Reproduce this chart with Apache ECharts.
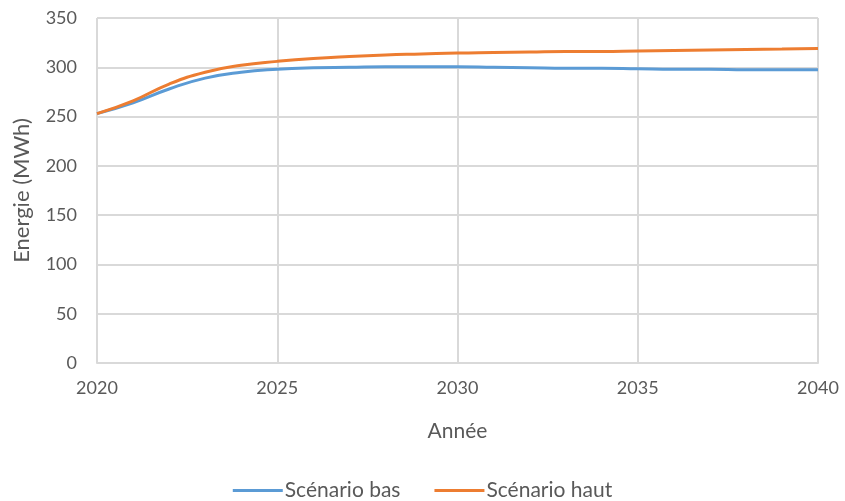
<!DOCTYPE html>
<html>
<head>
<meta charset="utf-8">
<script src="https://cdn.jsdelivr.net/npm/echarts@6/dist/echarts.min.js"></script>
<style>
  html, body { margin: 0; padding: 0; background: #fff; }
  #chart { width: 845px; height: 501px; }
</style>
</head>
<body>
<div id="chart"></div>
<script>
// Annual energy projection, 2020–2040
const years = [2020, 2021, 2022, 2023, 2024, 2025, 2026, 2027, 2028, 2029, 2030,
               2031, 2032, 2033, 2034, 2035, 2036, 2037, 2038, 2039, 2040];
const scenarioBas = [253, 264, 278, 289, 295, 298, 299.5, 300, 300.5, 300.5, 300.5,
                     300, 299.5, 299, 299, 298.5, 298, 298, 297.5, 297.5, 297.5];
const scenarioHaut = [253, 266, 283, 295, 302, 306, 309, 311, 312.5, 313.5, 314.5,
                      315, 315.5, 316, 316, 316.5, 317, 317.5, 318, 318.5, 319];
const seriesNames = ['Scénario bas', 'Scénario haut'];

const font = 'Lato, "Open Sans", sans-serif';
const gridColor = '#d9d9d9';
const textColor = '#595959';

const chart = echarts.init(document.getElementById('chart'));
chart.setOption({
  animation: false,
  textStyle: { fontFamily: font },
  grid: { left: 97, right: 27, top: 18, bottom: 138 },
  xAxis: {
    type: 'value', min: 2020, max: 2040, interval: 5,
    name: 'Année', nameLocation: 'middle', nameGap: 58,
    nameTextStyle: { color: textColor, fontSize: 21, fontFamily: font },
    axisLine: { show: true, lineStyle: { color: gridColor, width: 2 } },
    axisTick: { show: false },
    axisLabel: { color: textColor, fontSize: 18, margin: 16, fontFamily: font,
                 formatter: v => String(v) },
    splitLine: { show: true, lineStyle: { color: gridColor, width: 2 } }
  },
  yAxis: {
    type: 'value', min: 0, max: 350, interval: 50,
    name: 'Energie (MWh)', nameLocation: 'middle', nameGap: 64, nameRotate: 90,
    nameTextStyle: { color: textColor, fontSize: 22, fontFamily: font },
    axisLine: { show: false },
    axisTick: { show: false },
    axisLabel: { color: textColor, fontSize: 18, margin: 20, fontFamily: font },
    splitLine: { show: true, lineStyle: { color: gridColor, width: 2 } }
  },
  legend: {
    bottom: -5, left: 'center',
    icon: 'rect', itemWidth: 50, itemHeight: 3, itemGap: 34,
    textStyle: { color: textColor, fontSize: 21, fontFamily: font, padding: [0, 0, 0, -3] },
    data: seriesNames
  },
  series: [
    {
      name: seriesNames[0], type: 'line', smooth: true, showSymbol: false,
      data: years.map((y, i) => [y, scenarioBas[i]]),
      lineStyle: { color: '#5B9BD5', width: 3 }, itemStyle: { color: '#5B9BD5' }
    },
    {
      name: seriesNames[1], type: 'line', smooth: true, showSymbol: false,
      data: years.map((y, i) => [y, scenarioHaut[i]]),
      lineStyle: { color: '#ED7D31', width: 3 }, itemStyle: { color: '#ED7D31' }
    }
  ]
});
</script>
</body>
</html>
